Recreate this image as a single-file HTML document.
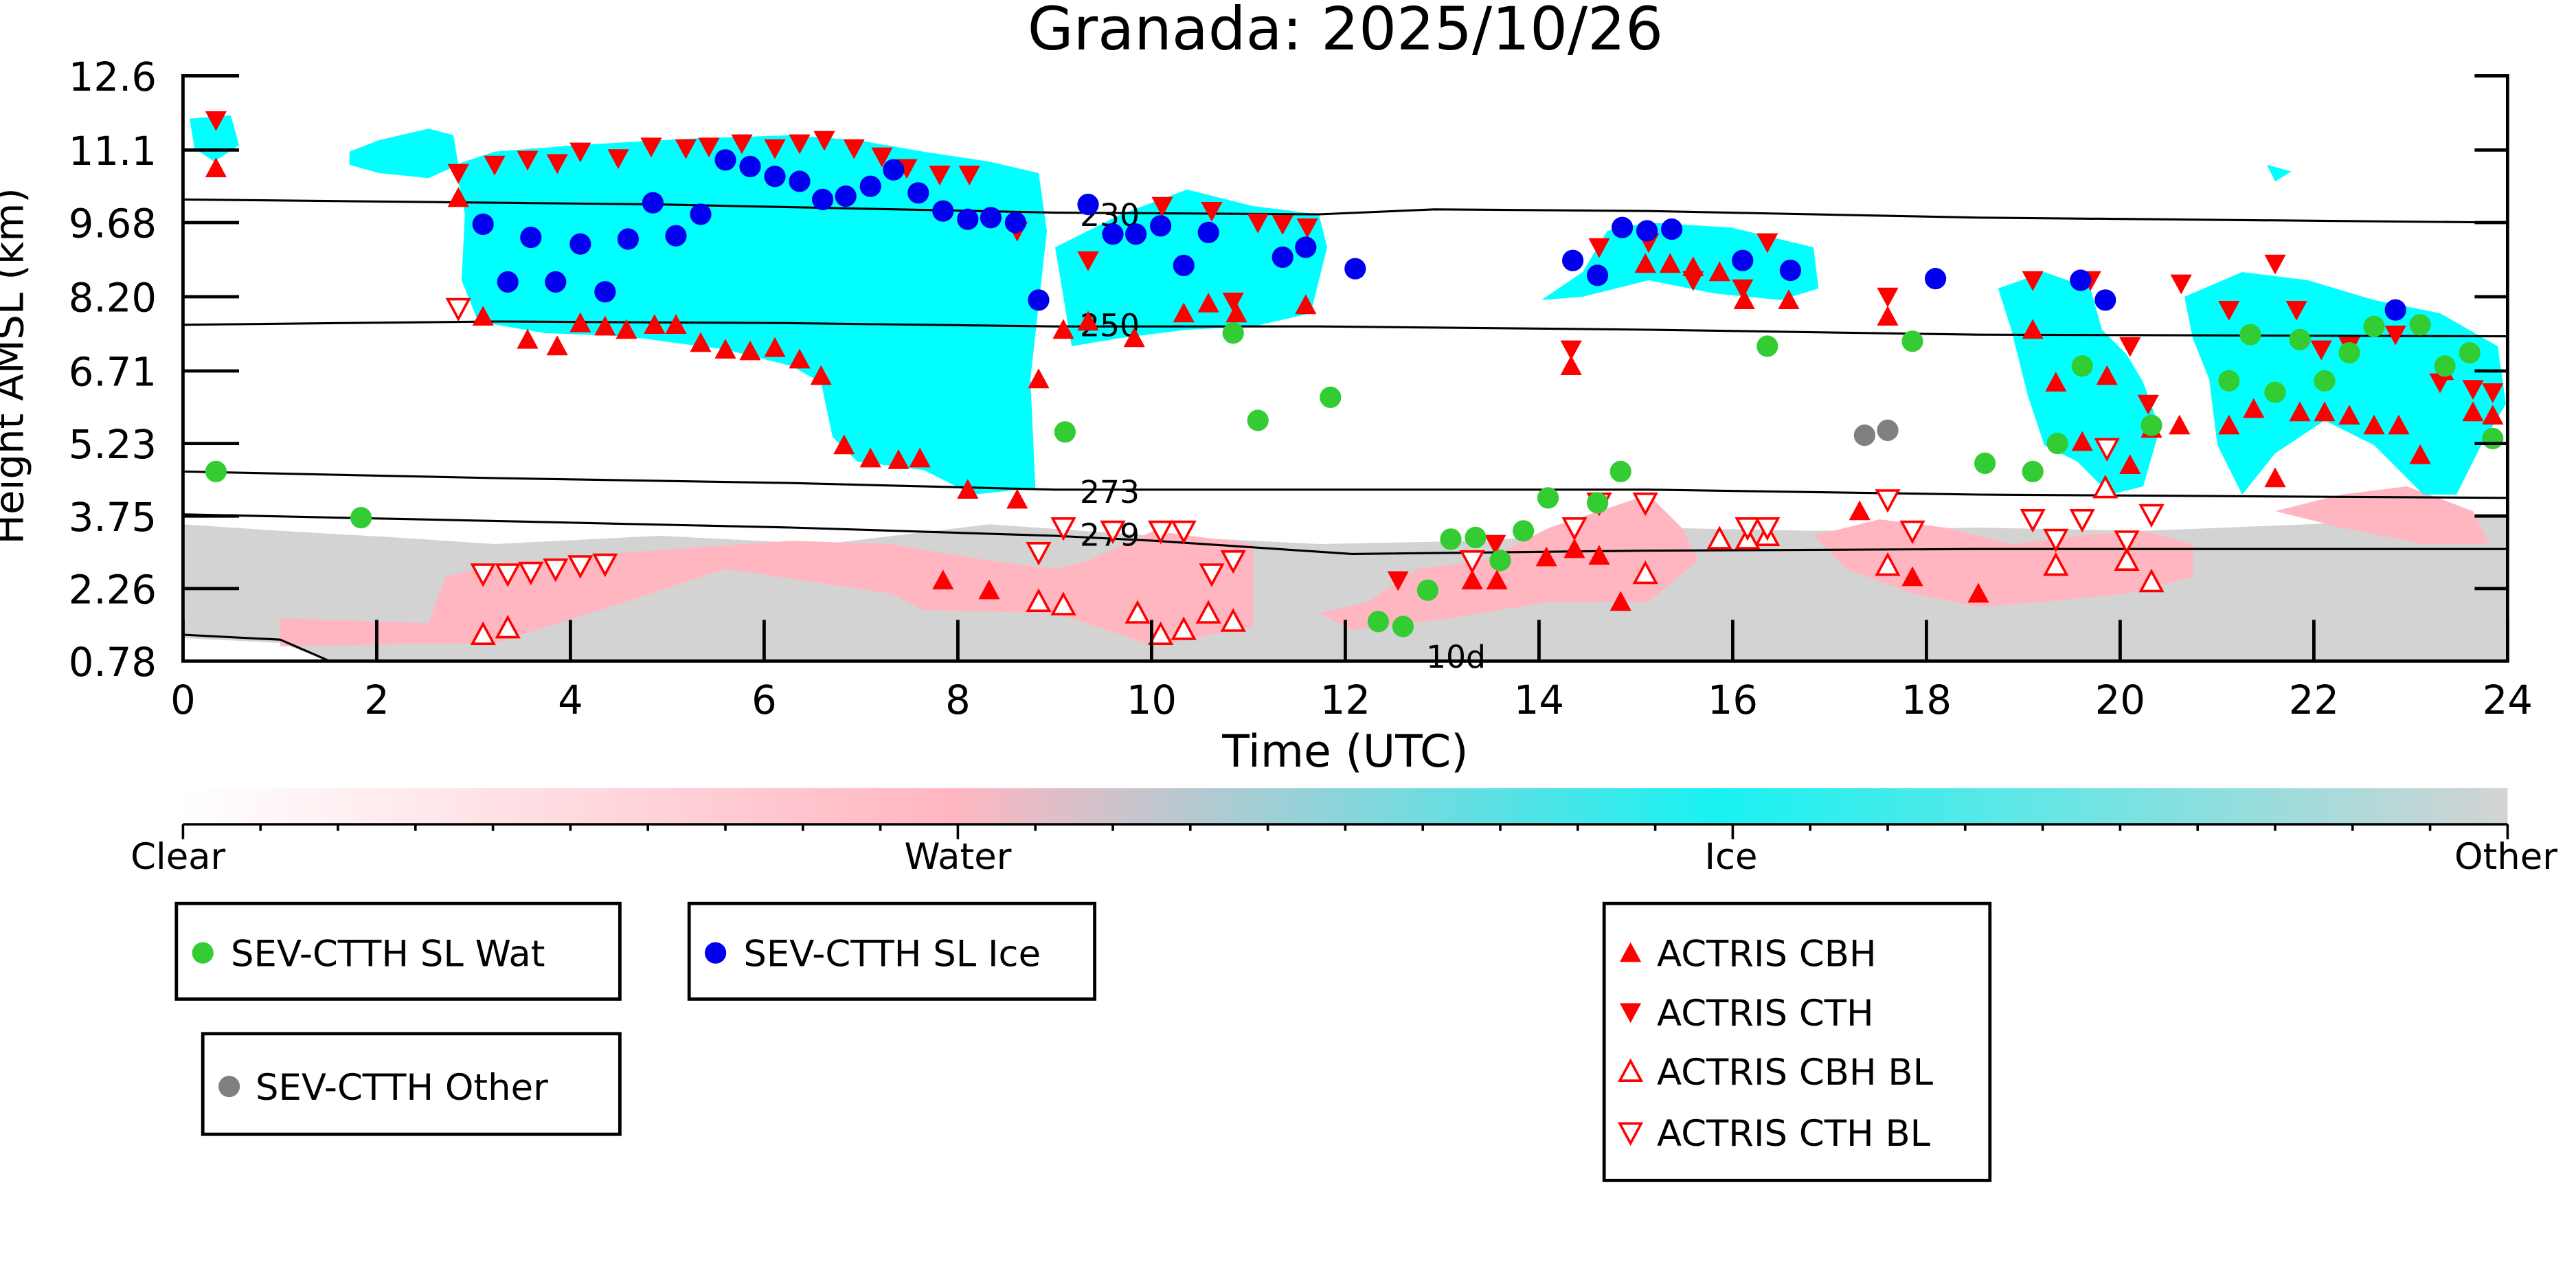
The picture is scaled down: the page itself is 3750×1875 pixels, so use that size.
<!DOCTYPE html>
<html><head><meta charset="utf-8"><style>
html,body{margin:0;padding:0;background:#fff;}
svg{display:block;}
text{font-family:"DejaVu Sans","Liberation Sans",sans-serif;}
circle{r:6.5px;}
</style></head><body>
<svg width="3750" height="1875" viewBox="0 0 1562.5 781.25" xmlns="http://www.w3.org/2000/svg">
<defs>
<linearGradient id="cb" x1="0" x2="1" y1="0" y2="0">
<stop offset="0" stop-color="#ffffff"/>
<stop offset="0.33" stop-color="#ffb6c1"/>
<stop offset="0.66" stop-color="#18f2f2"/>
<stop offset="1" stop-color="#d3d3d3"/>
</linearGradient>
<path id="u" d="M0,-6.5 L6.5,5.5 L-6.5,5.5Z"/>
<path id="d" d="M0,6.5 L6.5,-5.5 L-6.5,-5.5Z"/>
</defs>
<text x="816" y="30" font-size="36" text-anchor="middle">Granada: 2025/10/26</text>
<polygon fill="#d3d3d3" points="111,318 170,322 240,326 300,330 400,325 500,330 600,318 700,325 800,330 900,328 1000,320 1100,322 1200,320 1300,322 1400,318 1521,312 1521,401 111,401"/>
<polygon fill="#fff" points="111,387 170,390 200,401 111,401"/>
<polygon fill="#ffb6c1" points="170,375 260,378 270,350 300,342 360,338 380,335 480,328 540,330 600,340 640,345 660,340 700,322 760,330 760,380 700,392 680,385 640,372 560,370 540,360 440,345 380,365 300,390 170,392"/>
<polygon fill="#ffb6c1" points="800,372 830,365 860,345 900,340 940,320 1000,300 1020,320 1030,340 1000,365 940,365 880,375 820,382"/>
<polygon fill="#ffb6c1" points="1100,325 1140,315 1180,320 1220,330 1260,325 1300,322 1330,330 1330,350 1290,360 1240,365 1200,368 1160,360 1120,345"/>
<polygon fill="#ffb6c1" points="1380,310 1420,300 1460,295 1500,310 1510,330 1470,330 1420,320"/>
<g fill="#00ffff">
<polygon points="115,72 140,70 145,88 130,98 118,90"/>
<polygon points="212,92 230,85 260,78 275,82 278,100 260,108 230,105 212,100"/>
<polygon points="276,100 300,92 350,88 420,84 480,82 520,85 560,92 600,98 630,105 635,140 625,230 628,296 590,300 560,285 520,280 505,265 498,232 480,222 440,212 380,204 330,202 290,195 280,170 282,130"/>
<polygon points="640,150 680,130 720,115 760,125 800,130 805,150 795,190 760,198 720,200 680,205 650,210"/>
<polygon points="935,182 960,165 975,140 1000,135 1050,138 1100,150 1103,175 1080,182 1040,178 1000,170 960,180"/>
<polygon points="1212,175 1240,165 1268,175 1275,200 1290,215 1300,232 1310,260 1300,295 1280,300 1260,280 1240,270 1230,240 1220,200"/>
<polygon points="1325,180 1360,165 1400,170 1440,182 1480,190 1515,210 1520,245 1505,270 1490,300 1470,300 1440,270 1410,255 1380,275 1360,300 1345,270 1340,230 1330,205"/>
<polygon points="1375,100 1390,104 1380,110"/>
</g>
<g fill="none" stroke="#000" stroke-width="1.3">
<polyline points="111,121 400,124 640,129 800,130 870,127 1000,128 1200,132 1521,135"/>
<polyline points="111,197 300,195 480,196 640,198 800,198 1000,200 1200,203 1521,204"/>
<polyline points="111,286 300,290 480,293 640,297 800,297 1000,297 1200,300 1521,302"/>
<polyline points="111,312 300,316 480,320 640,325 700,328 820,336 1000,334 1200,333 1521,333"/>
<polyline points="111,385 170,388 200,401"/>
</g>
<g font-size="19">
<text x="655" y="137">230</text><text x="655" y="204">250</text><text x="655" y="305">273</text><text x="655" y="331">279</text><text x="865" y="405">10d</text>
</g>
<g fill="red">
<use href="#d" x="131" y="73"/><use href="#d" x="278" y="105"/><use href="#d" x="300" y="100"/><use href="#d" x="320" y="97"/><use href="#d" x="338" y="99"/><use href="#d" x="352" y="92"/><use href="#d" x="375" y="96"/><use href="#d" x="395" y="89"/><use href="#d" x="416" y="90"/><use href="#d" x="430" y="89"/><use href="#d" x="450" y="87"/><use href="#d" x="470" y="90"/><use href="#d" x="485" y="87"/><use href="#d" x="500" y="85"/><use href="#d" x="518" y="90"/><use href="#d" x="535" y="95"/><use href="#d" x="550" y="102"/><use href="#d" x="570" y="106"/><use href="#d" x="588" y="106"/><use href="#d" x="617" y="140"/><use href="#d" x="660" y="158"/><use href="#d" x="705" y="125"/><use href="#d" x="735" y="128"/><use href="#d" x="763" y="135"/><use href="#d" x="778" y="136"/><use href="#d" x="793" y="138"/><use href="#d" x="748" y="183"/><use href="#d" x="907" y="330"/><use href="#d" x="970" y="150"/><use href="#d" x="1000" y="147"/><use href="#d" x="1027" y="170"/><use href="#d" x="1057" y="175"/><use href="#d" x="1072" y="147"/><use href="#d" x="1145" y="180"/><use href="#d" x="953" y="212"/><use href="#d" x="1233" y="170"/><use href="#d" x="1268" y="170"/><use href="#d" x="1292" y="210"/><use href="#d" x="1323" y="172"/><use href="#d" x="1352" y="188"/><use href="#d" x="1380" y="160"/><use href="#d" x="1393" y="188"/><use href="#d" x="1408" y="212"/><use href="#d" x="1425" y="210"/><use href="#d" x="1453" y="203"/><use href="#d" x="1480" y="232"/><use href="#d" x="1500" y="236"/><use href="#d" x="1512" y="238"/><use href="#d" x="1303" y="245"/><use href="#d" x="848" y="352"/>
<use href="#u" x="131" y="102"/><use href="#u" x="278" y="120"/><use href="#u" x="293" y="192"/><use href="#u" x="320" y="206"/><use href="#u" x="338" y="210"/><use href="#u" x="352" y="196"/><use href="#u" x="367" y="198"/><use href="#u" x="380" y="200"/><use href="#u" x="397" y="197"/><use href="#u" x="410" y="197"/><use href="#u" x="425" y="208"/><use href="#u" x="440" y="212"/><use href="#u" x="455" y="213"/><use href="#u" x="470" y="211"/><use href="#u" x="485" y="218"/><use href="#u" x="498" y="228"/><use href="#u" x="512" y="270"/><use href="#u" x="528" y="278"/><use href="#u" x="545" y="279"/><use href="#u" x="558" y="278"/><use href="#u" x="587" y="297"/><use href="#u" x="617" y="303"/><use href="#u" x="630" y="230"/><use href="#u" x="645" y="200"/><use href="#u" x="660" y="195"/><use href="#u" x="688" y="205"/><use href="#u" x="718" y="190"/><use href="#u" x="733" y="184"/><use href="#u" x="750" y="190"/><use href="#u" x="792" y="185"/><use href="#u" x="572" y="352"/><use href="#u" x="600" y="358"/><use href="#u" x="893" y="352"/><use href="#u" x="908" y="352"/><use href="#u" x="938" y="338"/><use href="#u" x="955" y="333"/><use href="#u" x="970" y="337"/><use href="#u" x="983" y="365"/><use href="#u" x="998" y="160"/><use href="#u" x="1013" y="160"/><use href="#u" x="1027" y="162"/><use href="#u" x="1043" y="165"/><use href="#u" x="1058" y="182"/><use href="#u" x="1085" y="182"/><use href="#u" x="953" y="222"/><use href="#u" x="1128" y="310"/><use href="#u" x="1145" y="192"/><use href="#u" x="1160" y="350"/><use href="#u" x="1200" y="360"/><use href="#u" x="1233" y="200"/><use href="#u" x="1247" y="232"/><use href="#u" x="1263" y="268"/><use href="#u" x="1278" y="228"/><use href="#u" x="1292" y="282"/><use href="#u" x="1305" y="260"/><use href="#u" x="1322" y="258"/><use href="#u" x="1352" y="258"/><use href="#u" x="1367" y="248"/><use href="#u" x="1380" y="290"/><use href="#u" x="1395" y="250"/><use href="#u" x="1410" y="250"/><use href="#u" x="1425" y="252"/><use href="#u" x="1440" y="258"/><use href="#u" x="1455" y="258"/><use href="#u" x="1468" y="276"/><use href="#u" x="1482" y="225"/><use href="#u" x="1500" y="250"/><use href="#u" x="1512" y="252"/>
</g>
<g fill="#fff" stroke="red" stroke-width="1.5">
<use href="#u" x="293" y="385"/><use href="#u" x="308" y="381"/><use href="#u" x="645" y="367"/><use href="#u" x="690" y="372"/><use href="#u" x="704" y="385"/><use href="#u" x="718" y="382"/><use href="#u" x="733" y="372"/><use href="#u" x="748" y="377"/><use href="#u" x="630" y="365"/><use href="#u" x="998" y="348"/><use href="#u" x="1043" y="327"/><use href="#u" x="1072" y="325"/><use href="#u" x="1145" y="343"/><use href="#u" x="1247" y="343"/><use href="#u" x="1290" y="340"/><use href="#u" x="1305" y="353"/><use href="#u" x="1277" y="296"/><use href="#u" x="1060" y="327"/>
<use href="#d" x="278" y="187"/><use href="#d" x="293" y="348"/><use href="#d" x="308" y="348"/><use href="#d" x="322" y="347"/><use href="#d" x="337" y="345"/><use href="#d" x="352" y="343"/><use href="#d" x="367" y="342"/><use href="#d" x="630" y="335"/><use href="#d" x="645" y="320"/><use href="#d" x="675" y="322"/><use href="#d" x="704" y="322"/><use href="#d" x="718" y="322"/><use href="#d" x="735" y="348"/><use href="#d" x="748" y="340"/><use href="#d" x="893" y="340"/><use href="#d" x="955" y="320"/><use href="#d" x="970" y="305"/><use href="#d" x="998" y="305"/><use href="#d" x="1060" y="320"/><use href="#d" x="1072" y="320"/><use href="#d" x="1145" y="303"/><use href="#d" x="1160" y="322"/><use href="#d" x="1233" y="315"/><use href="#d" x="1247" y="327"/><use href="#d" x="1290" y="328"/><use href="#d" x="1305" y="312"/><use href="#d" x="1263" y="315"/><use href="#d" x="1278" y="272"/>
</g>
<g fill="#33cc33">
<circle cx="131" cy="286" r="6.5"/><circle cx="219" cy="314" r="6.5"/><circle cx="646" cy="262" r="6.5"/><circle cx="748" cy="202" r="6.5"/><circle cx="763" cy="255" r="6.5"/><circle cx="807" cy="241" r="6.5"/><circle cx="836" cy="377" r="6.5"/><circle cx="851" cy="380" r="6.5"/><circle cx="866" cy="358" r="6.5"/><circle cx="880" cy="327" r="6.5"/><circle cx="895" cy="326" r="6.5"/><circle cx="910" cy="340" r="6.5"/><circle cx="924" cy="322" r="6.5"/><circle cx="939" cy="302" r="6.5"/><circle cx="969" cy="305" r="6.5"/><circle cx="983" cy="286" r="6.5"/><circle cx="1072" cy="210" r="6.5"/><circle cx="1160" cy="207" r="6.5"/><circle cx="1204" cy="281" r="6.5"/><circle cx="1233" cy="286" r="6.5"/><circle cx="1248" cy="269" r="6.5"/><circle cx="1263" cy="222" r="6.5"/><circle cx="1305" cy="258" r="6.5"/><circle cx="1352" cy="231" r="6.5"/><circle cx="1365" cy="203" r="6.5"/><circle cx="1380" cy="238" r="6.5"/><circle cx="1395" cy="206" r="6.5"/><circle cx="1410" cy="231" r="6.5"/><circle cx="1425" cy="214" r="6.5"/><circle cx="1440" cy="198" r="6.5"/><circle cx="1468" cy="197" r="6.5"/><circle cx="1483" cy="222" r="6.5"/><circle cx="1498" cy="214" r="6.5"/><circle cx="1512" cy="266" r="6.5"/>
</g>
<g fill="#0000ee">
<circle cx="293" cy="136" r="6.5"/><circle cx="308" cy="171" r="6.5"/><circle cx="322" cy="144" r="6.5"/><circle cx="337" cy="171" r="6.5"/><circle cx="352" cy="148" r="6.5"/><circle cx="367" cy="177" r="6.5"/><circle cx="381" cy="145" r="6.5"/><circle cx="396" cy="123" r="6.5"/><circle cx="410" cy="143" r="6.5"/><circle cx="425" cy="130" r="6.5"/><circle cx="440" cy="97" r="6.5"/><circle cx="455" cy="101" r="6.5"/><circle cx="470" cy="107" r="6.5"/><circle cx="485" cy="110" r="6.5"/><circle cx="499" cy="121" r="6.5"/><circle cx="513" cy="119" r="6.5"/><circle cx="528" cy="113" r="6.5"/><circle cx="542" cy="103" r="6.5"/><circle cx="557" cy="117" r="6.5"/><circle cx="572" cy="128" r="6.5"/><circle cx="587" cy="133" r="6.5"/><circle cx="601" cy="132" r="6.5"/><circle cx="616" cy="135" r="6.5"/><circle cx="630" cy="182" r="6.5"/><circle cx="660" cy="124" r="6.5"/><circle cx="675" cy="142" r="6.5"/><circle cx="689" cy="142" r="6.5"/><circle cx="704" cy="137" r="6.5"/><circle cx="718" cy="161" r="6.5"/><circle cx="733" cy="141" r="6.5"/><circle cx="778" cy="156" r="6.5"/><circle cx="792" cy="150" r="6.5"/><circle cx="822" cy="163" r="6.5"/><circle cx="954" cy="158" r="6.5"/><circle cx="969" cy="167" r="6.5"/><circle cx="984" cy="138" r="6.5"/><circle cx="999" cy="140" r="6.5"/><circle cx="1014" cy="139" r="6.5"/><circle cx="1057" cy="158" r="6.5"/><circle cx="1086" cy="164" r="6.5"/><circle cx="1174" cy="169" r="6.5"/><circle cx="1262" cy="170" r="6.5"/><circle cx="1277" cy="182" r="6.5"/><circle cx="1453" cy="188" r="6.5"/>
</g>
<g fill="#808080"><circle cx="1131" cy="264" r="6.5"/><circle cx="1145" cy="261" r="6.5"/></g>
<g stroke="#000" stroke-width="2" fill="none">
<line x1="111" y1="45" x2="111" y2="401"/><line x1="1521" y1="45" x2="1521" y2="401"/><line x1="110" y1="401" x2="1522" y2="401"/>
<path d="M111,46h34M111,91h34M111,135h34M111,180h34M111,225h34M111,269h34M111,313h34M111,357h34M1521,46h-20M1521,91h-20M1521,135h-20M1521,180h-20M1521,225h-20M1521,269h-20M1521,313h-20M1521,357h-20"/>
<path d="M111,401v-25M228.5,401v-25M346,401v-25M463.5,401v-25M581,401v-25M698.5,401v-25M816,401v-25M933.5,401v-25M1051,401v-25M1168.5,401v-25M1286,401v-25M1403.5,401v-25M1521,401v-25"/>
</g>
<g font-size="24" text-anchor="end">
<text x="95" y="55">12.6</text><text x="95" y="100">11.1</text><text x="95" y="144">9.68</text><text x="95" y="189">8.20</text><text x="95" y="234">6.71</text><text x="95" y="278">5.23</text><text x="95" y="322">3.75</text><text x="95" y="366">2.26</text><text x="95" y="410">0.78</text>
</g>
<g font-size="24" text-anchor="middle">
<text x="111" y="433">0</text><text x="228.5" y="433">2</text><text x="346" y="433">4</text><text x="463.5" y="433">6</text><text x="581" y="433">8</text><text x="698.5" y="433">10</text><text x="816" y="433">12</text><text x="933.5" y="433">14</text><text x="1051" y="433">16</text><text x="1168.5" y="433">18</text><text x="1286" y="433">20</text><text x="1403.5" y="433">22</text><text x="1521" y="433">24</text>
<text x="816" y="465" font-size="27">Time (UTC)</text>
<text transform="translate(14,222) rotate(-90)" font-size="24">Height AMSL (km)</text>
</g>
<rect x="111" y="478" width="1410" height="22" fill="url(#cb)"/>
<g stroke="#000" stroke-width="1.5">
<line x1="111" y1="500" x2="1521" y2="500"/>
<path d="M111,500v9M581,500v9M1051,500v9M1521,500v9M158,500v4M205,500v4M252,500v4M299,500v4M346,500v4M393,500v4M440,500v4M487,500v4M534,500v4M628,500v4M675,500v4M722,500v4M769,500v4M816,500v4M863,500v4M910,500v4M957,500v4M1004,500v4M1098,500v4M1145,500v4M1192,500v4M1239,500v4M1286,500v4M1333,500v4M1380,500v4M1427,500v4M1474,500v4"/>
</g>
<g font-size="22" text-anchor="middle">
<text x="108" y="527">Clear</text><text x="581" y="527">Water</text><text x="1050" y="527">Ice</text><text x="1520" y="527">Other</text>
</g>
<g stroke="#000" stroke-width="2" fill="#fff">
<rect x="107" y="548" width="269" height="58"/><rect x="418" y="548" width="246" height="58"/><rect x="123" y="627" width="253" height="61"/><rect x="973" y="548" width="234" height="168"/>
</g>
<g font-size="22">
<circle cx="123" cy="578" r="6.5" fill="#33cc33"/><text x="140" y="586">SEV-CTTH SL Wat</text>
<circle cx="434" cy="578" r="6.5" fill="#0000ee"/><text x="451" y="586">SEV-CTTH SL Ice</text>
<circle cx="139" cy="659" r="6.5" fill="#808080"/><text x="155" y="667">SEV-CTTH Other</text>
<use href="#u" x="989" y="578" fill="red"/><text x="1005" y="586">ACTRIS CBH</text>
<use href="#d" x="989" y="614" fill="red"/><text x="1005" y="622">ACTRIS CTH</text>
<use href="#u" x="989" y="650" fill="#fff" stroke="red" stroke-width="1.5"/><text x="1005" y="658">ACTRIS CBH BL</text>
<use href="#d" x="989" y="687" fill="#fff" stroke="red" stroke-width="1.5"/><text x="1005" y="695">ACTRIS CTH BL</text>
</g>
</svg>
</body></html>
